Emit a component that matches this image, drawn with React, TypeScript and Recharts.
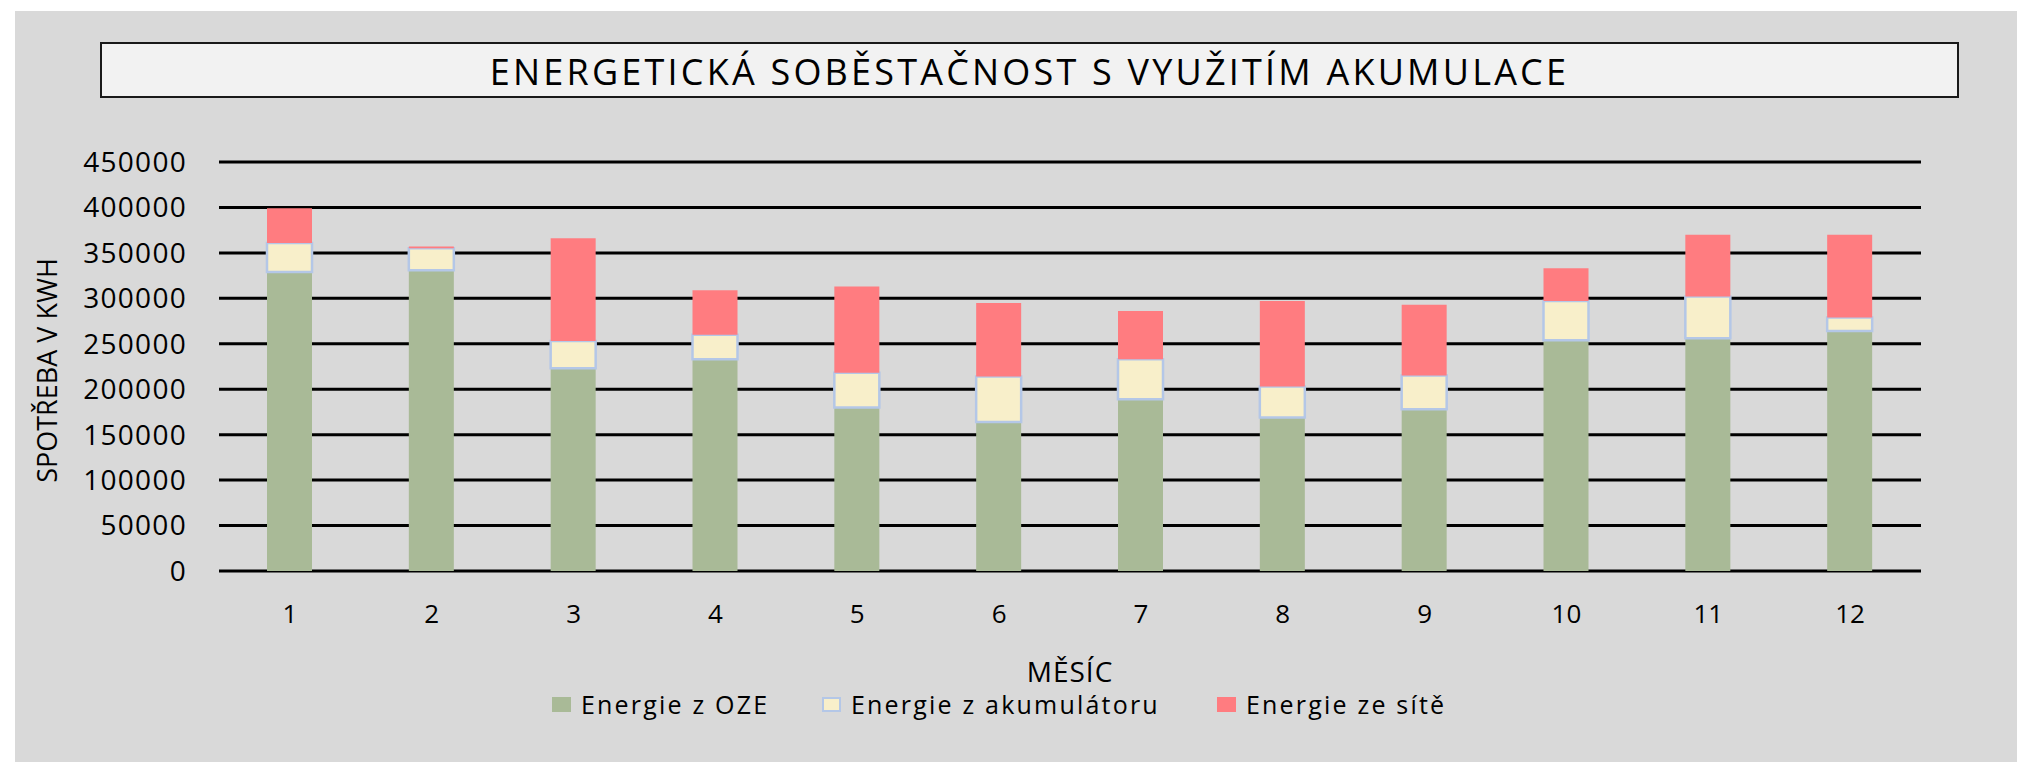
import { BarChart, Bar, XAxis, YAxis, CartesianGrid, Legend } from 'recharts';

const months = ['1', '2', '3', '4', '5', '6', '7', '8', '9', '10', '11', '12'];
const energieOze = [329000, 331000, 223000, 233000, 180000, 164000, 189000, 169000, 178000, 254000, 256000, 264000];
const energieAkumulator = [32000, 24000, 30000, 27000, 38000, 50000, 44000, 34000, 37000, 43000, 46000, 15000];
const energieSit = [38000, 2000, 113000, 49000, 95000, 81000, 53000, 94000, 78000, 36000, 68000, 91000];
const yTicks = [0, 50000, 100000, 150000, 200000, 250000, 300000, 350000, 400000, 450000];

const data = months.map((m, i) => ({
  month: m,
  oze: energieOze[i],
  akum: energieAkumulator[i],
  sit: energieSit[i],
}));

const FONT = '"Open Sans", sans-serif';
const legendBorder: Record<string, string> = { akum: '2px solid #b4c7e7' };
const legendItemWidths = [270, 395, undefined];

const YAxisTitle = ({ viewBox }: any) => {
  const x = viewBox.x + 38;
  const y = viewBox.y + viewBox.height / 2 + 4;
  return (
    <text
      x={x}
      y={y}
      transform={`rotate(-90, ${x}, ${y})`}
      textAnchor="middle"
      fontSize={27}
      fontWeight={500}
      fontFamily={FONT}
      fill="#000"
    >
      SPOTŘEBA V KWH
    </text>
  );
};

const XAxisTitle = ({ viewBox }: any) => (
  <text
    x={viewBox.x + viewBox.width / 2}
    y={viewBox.y + 111}
    textAnchor="middle"
    fontSize={28}
    fontWeight={500}
    fontFamily={FONT}
    letterSpacing={1}
    fill="#000"
  >
    MĚSÍC
  </text>
);

const renderLegend = ({ payload }: any) => (
  <div style={{ display: 'flex', alignItems: 'center', paddingLeft: 552, height: 30 }}>
    {(payload || []).map((entry: any, i: number) => (
      <div
        key={entry.value}
        style={{ display: 'flex', alignItems: 'center', width: legendItemWidths[i], flexShrink: 0 }}
      >
        <span
          style={{
            display: 'inline-block',
            boxSizing: 'border-box',
            width: 19,
            height: 15,
            background: entry.color,
            border: legendBorder[entry.dataKey] || 'none',
          }}
        />
        <span
          style={{
            marginLeft: 10,
            fontSize: 25,
            fontWeight: 500,
            lineHeight: '30px',
            letterSpacing: 2.2,
            color: '#000',
            fontFamily: FONT,
            whiteSpace: 'nowrap',
          }}
        >
          {entry.value}
        </span>
      </div>
    ))}
  </div>
);

export default function App() {
  return (
    <div style={{ position: 'absolute', left: 0, top: 0, width: 2017, height: 762, background: '#fff', fontFamily: FONT }}>
      <div style={{ position: 'absolute', left: 15, top: 11, right: 0, bottom: 0, background: '#d9d9d9' }} />
      <div
        style={{
          position: 'absolute',
          left: 100,
          top: 42,
          width: 1859,
          height: 56,
          boxSizing: 'border-box',
          border: '2px solid #1a1a1a',
          background: '#f2f2f2',
          textAlign: 'center',
          fontSize: 36,
          fontWeight: 500,
          lineHeight: '48px',
          paddingTop: 4,
          letterSpacing: 3.2,
          color: '#000',
        }}
      >
        ENERGETICKÁ SOBĚSTAČNOST S VYUŽITÍM AKUMULACE
      </div>
      <div style={{ position: 'absolute', left: 0, top: 0 }}>
        <BarChart
          width={2017}
          height={762}
          data={data}
          margin={{ top: 162, right: 96, bottom: 71, left: 19 }}
        >
          <CartesianGrid vertical={false} stroke="#000" strokeWidth={3} />
          <XAxis
            dataKey="month"
            height={120}
            interval={0}
            axisLine={false}
            tickLine={false}
            tickSize={0}
            tickMargin={34}
            tick={{ fill: '#000', fontSize: 26, fontWeight: 500, fontFamily: FONT }}
            label={{ content: XAxisTitle }}
          />
          <YAxis
            width={200}
            domain={[0, 450000]}
            ticks={yTicks}
            interval={0}
            axisLine={false}
            tickLine={false}
            tickSize={0}
            tickMargin={32}
            tick={{ fill: '#000', fontSize: 28, fontWeight: 500, fontFamily: FONT, letterSpacing: 1.3 }}
            label={{ content: YAxisTitle }}
          />
          <Legend
            layout="horizontal"
            verticalAlign="middle"
            align="center"
            wrapperStyle={{ left: 0, top: 689, width: 2017 }}
            content={renderLegend}
          />
          <Bar dataKey="oze" name="Energie z OZE" stackId="a" fill="#a9ba97" barSize={45} isAnimationActive={false} />
          <Bar
            dataKey="akum"
            name="Energie z akumulátoru"
            stackId="a"
            fill="#f8efca"
            stroke="#b4c7e7"
            strokeWidth={2.5}
            barSize={45}
            isAnimationActive={false}
          />
          <Bar dataKey="sit" name="Energie ze sítě" stackId="a" fill="#ff7c80" barSize={45} isAnimationActive={false} />
        </BarChart>
      </div>
    </div>
  );
}
